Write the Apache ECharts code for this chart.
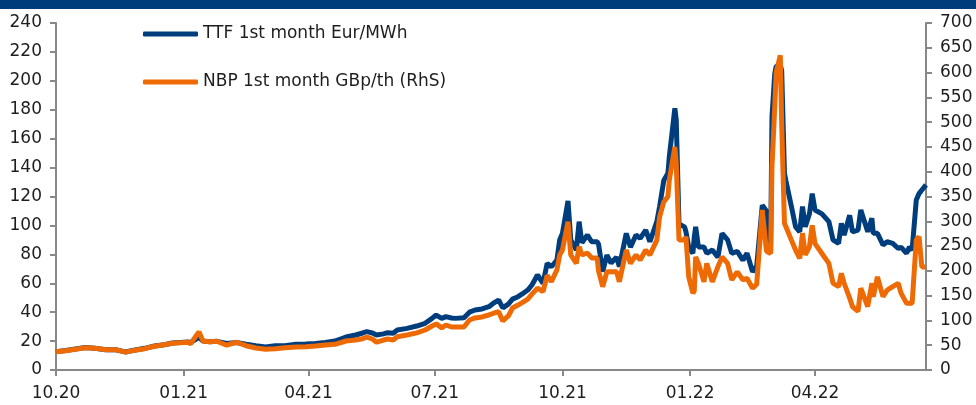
<!DOCTYPE html>
<html>
<head>
<meta charset="utf-8">
<script src="https://cdn.jsdelivr.net/npm/echarts@6.0.0/dist/echarts.min.js"></script>
<style>
  html, body { margin: 0; padding: 0; background: #fff; }
  #chart { width: 976px; height: 405px; }
</style>
</head>
<body>
<div id="chart"></div>
<script>
// daily-ish samples
const dates = [
  '2020-10-01', '2020-10-08', '2020-10-15', '2020-10-22', '2020-10-29', '2020-11-06', '2020-11-13', '2020-11-20',
  '2020-11-27', '2020-12-04', '2020-12-11', '2020-12-18', '2020-12-24', '2021-01-04', '2021-01-06', '2021-01-12',
  '2021-01-15', '2021-01-20', '2021-01-25', '2021-02-01', '2021-02-08', '2021-02-15', '2021-02-22', '2021-03-01',
  '2021-03-08', '2021-03-15', '2021-03-23', '2021-03-30', '2021-04-06', '2021-04-13', '2021-04-20', '2021-04-28',
  '2021-05-05', '2021-05-10', '2021-05-13', '2021-05-17', '2021-05-20', '2021-05-25', '2021-05-28', '2021-06-01',
  '2021-06-04', '2021-06-11', '2021-06-18', '2021-06-24', '2021-06-29', '2021-07-02', '2021-07-06', '2021-07-09',
  '2021-07-13', '2021-07-16', '2021-07-22', '2021-07-26', '2021-07-30', '2021-08-04', '2021-08-09', '2021-08-12',
  '2021-08-16', '2021-08-19', '2021-08-23', '2021-08-26', '2021-08-30', '2021-09-02', '2021-09-06', '2021-09-09',
  '2021-09-13', '2021-09-17', '2021-09-20', '2021-09-23', '2021-09-27', '2021-09-29', '2021-10-01', '2021-10-05',
  '2021-10-07', '2021-10-11', '2021-10-13', '2021-10-15', '2021-10-19', '2021-10-22', '2021-10-26', '2021-10-27',
  '2021-10-30', '2021-11-02', '2021-11-05', '2021-11-09', '2021-11-11', '2021-11-16', '2021-11-19', '2021-11-23',
  '2021-11-26', '2021-11-30', '2021-12-03', '2021-12-08', '2021-12-10', '2021-12-13', '2021-12-16', '2021-12-17',
  '2021-12-21', '2021-12-22', '2021-12-24', '2021-12-28', '2021-12-29', '2021-12-31', '2022-01-03', '2022-01-04',
  '2022-01-05', '2022-01-07', '2022-01-11', '2022-01-13', '2022-01-17', '2022-01-21', '2022-01-24', '2022-01-28',
  '2022-01-31', '2022-02-04', '2022-02-08', '2022-02-11', '2022-02-15', '2022-02-18', '2022-02-22', '2022-02-25',
  '2022-02-28', '2022-03-01', '2022-03-03', '2022-03-04', '2022-03-07', '2022-03-08', '2022-03-10', '2022-03-11',
  '2022-03-15', '2022-03-18', '2022-03-21', '2022-03-23', '2022-03-25', '2022-03-28', '2022-03-30', '2022-04-01',
  '2022-04-06', '2022-04-11', '2022-04-14', '2022-04-18', '2022-04-20', '2022-04-22', '2022-04-26', '2022-04-28',
  '2022-05-02', '2022-05-04', '2022-05-09', '2022-05-12', '2022-05-13', '2022-05-16', '2022-05-20', '2022-05-23',
  '2022-05-27', '2022-05-31', '2022-06-02', '2022-06-06', '2022-06-08', '2022-06-10', '2022-06-13', '2022-06-15',
  '2022-06-17', '2022-06-20'
]
const ttf = [
  12.7, 13.5, 14.5, 15.5, 15, 14, 14, 12.5,
  13.8, 15, 16.6, 17.5, 18.7, 19.4, 19, 22.5,
  20, 19.6, 19.8, 18.4, 19, 17.8, 16.8, 16,
  16.8, 16.8, 17.8, 18, 18.4, 19.1, 20, 22.8,
  24.2, 25.6, 26.5, 25.6, 24.2, 25, 25.8, 25.4,
  27.7, 28.8, 30.4, 32.3, 35.7, 38, 35.7, 36.9,
  36, 35.7, 36.2, 40, 41.5, 42.2, 43.8, 46,
  48.4, 43, 45.6, 49, 50.7, 52.6, 55.3, 58.8,
  65.7, 60, 73.8, 71.4, 76, 90, 94.7, 117,
  90, 83, 102.6, 88, 93.4, 88.7, 88.7, 87,
  68, 79.5, 74, 78, 71.5, 94.5, 85, 93.4,
  91, 96.8, 88.7, 102.6, 113, 131, 136, 147.5,
  181, 173, 101, 99, 95.6, 85, 80.7, 92,
  99, 85, 85, 80.7, 83, 78, 94.5, 90,
  80.7, 82, 76, 80.7, 68, 72, 114, 110,
  81, 175, 205, 210, 211, 207, 136, 131,
  113, 99, 95.6, 113, 99, 108, 122, 110.7,
  108, 102.6, 90, 87.6, 101.5, 93.4, 107, 95.6,
  96.8, 110.7, 95.6, 105, 94.5, 94.5, 86.5, 88.7,
  87.6, 84, 85, 80.7, 85, 83, 117.6, 122,
  124.5, 128
]
const nbp = [
  37, 39, 42, 45, 44, 41, 41, 36,
  40, 43, 48, 51, 54, 56, 53, 77,
  58, 57, 58, 50, 56, 49, 44.4, 42,
  43, 45, 46.4, 47, 48.4, 50.4, 51.8, 58.5,
  60.5, 63, 66.5, 62.5, 56, 60.5, 62.5, 60.5,
  67, 70.6, 75, 80.7, 88.8, 93, 85, 90.8,
  86.7, 86.7, 86.7, 100.8, 105, 107, 111, 114,
  117.6, 99, 109, 125, 131, 136, 143, 153,
  165, 158, 191, 178, 202, 232, 242, 299,
  232, 215, 249, 232, 236, 226, 226, 200,
  168, 198, 198, 198, 178, 242, 215, 232,
  222, 242, 232, 262, 309, 339, 350, 383,
  450, 417, 262, 262, 269, 188, 155, 160,
  228, 215, 178, 215, 178, 208, 228, 215,
  182, 198, 182, 185, 165, 173, 323, 240,
  235, 410, 531, 600, 635, 497, 296, 296,
  262, 242, 225, 276, 232, 249, 292, 255,
  235, 215, 175, 168, 195, 175, 145, 128,
  118, 165, 128, 175, 148, 188, 148, 161,
  168, 175, 155, 134.5, 134.5, 134.5, 262, 269,
  208, 208
]
const xTicks = ['2020-10-01', '2021-01-01', '2021-04-01', '2021-07-01', '2021-10-01', '2022-01-01', '2022-04-01']
const xStart = '2020-10-01'
const xEnd = '2022-06-20'

const DAY = 86400000
function toTime (s) {
  const p = s.split('-')
  return Date.UTC(+p[0], +p[1] - 1, +p[2])
}
// x position = days since the first date
function toDay (s) {
  return Math.round((toTime(s) - toTime(xStart)) / DAY)
}
function pad (n) {
  return (n < 10 ? '0' : '') + n
}

const axisGrey = '#888888'
const textColor = '#1e1e1e'
const font = 'DejaVu Sans'

const chart = echarts.init(document.getElementById('chart'))
const option = {
  backgroundColor: '#ffffff',
  animation: false,
  graphic: [{
    type: 'rect',
    shape: { x: 0, y: 0, width: 976, height: 9 },
    style: { fill: '#003b7b' }
  }],
  grid: { left: 56, right: 50, top: 23, bottom: 35 },
  legend: {
    orient: 'vertical',
    left: 143,
    top: 24,
    padding: 0,
    itemWidth: 55,
    itemHeight: 5,
    itemGap: 28,
    icon: 'roundRect',
    textStyle: { fontFamily: font, fontSize: 17, color: textColor, lineHeight: 20 },
    data: ['TTF 1st month Eur/MWh', 'NBP 1st month GBp/th (RhS)']
  },
  xAxis: {
    type: 'value',
    min: 0,
    max: toDay(xEnd),
    splitLine: { show: false },
    axisLine: { lineStyle: { color: axisGrey, width: 2 } },
    axisTick: {
      customValues: xTicks.map(toDay),
      length: 6,
      lineStyle: { color: axisGrey, width: 2 }
    },
    axisLabel: {
      customValues: xTicks.map(toDay),
      fontFamily: font,
      fontSize: 17,
      color: textColor,
      margin: 15,
      formatter: function (v) {
        const d = new Date(toTime(xStart) + v * DAY)
        return pad(d.getUTCMonth() + 1) + '.' + String(d.getUTCFullYear()).slice(2)
      }
    }
  },
  yAxis: [
    {
      type: 'value',
      min: 0,
      max: 240,
      interval: 20,
      splitLine: { show: false },
      axisLine: { show: true, lineStyle: { color: axisGrey, width: 2 } },
      axisTick: { show: true, length: 6, lineStyle: { color: axisGrey, width: 2 } },
      axisLabel: { fontFamily: font, fontSize: 17, color: textColor, margin: 14 }
    },
    {
      type: 'value',
      min: 0,
      max: 700,
      interval: 50,
      position: 'right',
      splitLine: { show: false },
      axisLine: { show: true, lineStyle: { color: axisGrey, width: 2 } },
      axisTick: { show: true, length: 6, lineStyle: { color: axisGrey, width: 2 } },
      axisLabel: { fontFamily: font, fontSize: 17, color: textColor, margin: 14 }
    }
  ],
  series: [
    {
      name: 'TTF 1st month Eur/MWh',
      type: 'line',
      yAxisIndex: 0,
      showSymbol: false,
      color: '#003d7c',
      lineStyle: { width: 5, color: '#003d7c' },
      data: dates.map((d, i) => [toDay(d), ttf[i]])
    },
    {
      name: 'NBP 1st month GBp/th (RhS)',
      type: 'line',
      yAxisIndex: 1,
      showSymbol: false,
      color: '#ee6a05',
      lineStyle: { width: 5, color: '#ee6a05' },
      data: dates.map((d, i) => [toDay(d), nbp[i]])
    }
  ]
}
chart.setOption(option)
</script>
</body>
</html>
